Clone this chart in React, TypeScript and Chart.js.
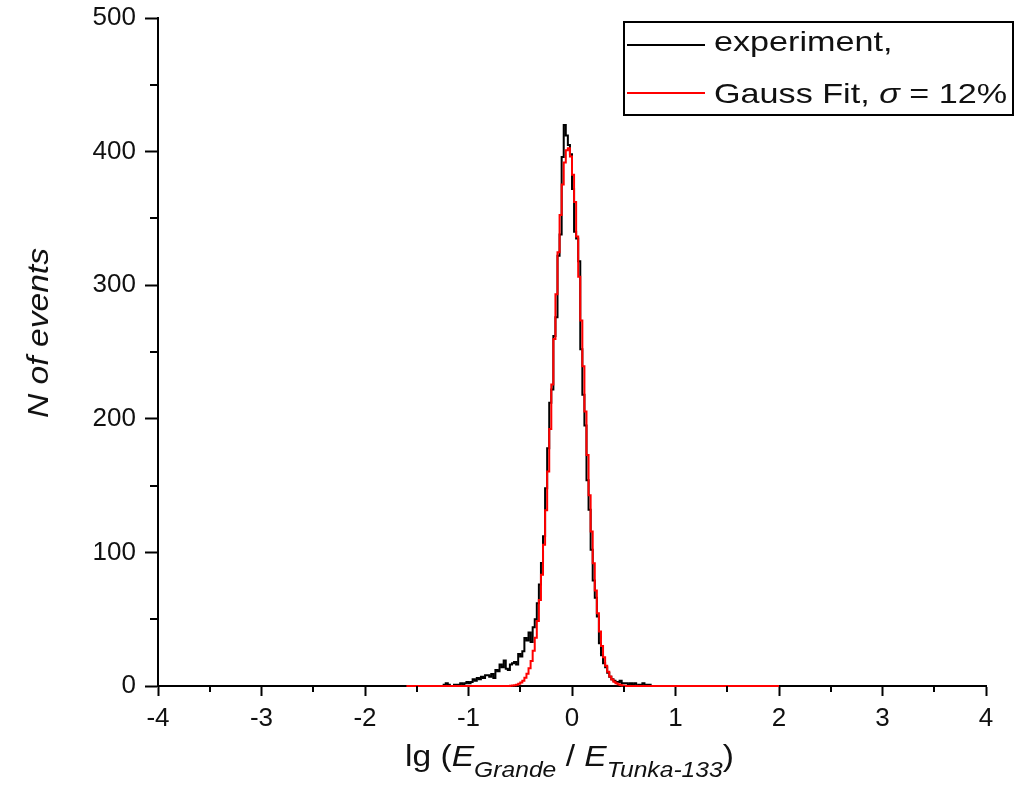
import React, { useEffect, useRef } from "react";
import { Chart, registerables } from "chart.js";

Chart.register(...registerables);

// ---- axes ----
const X_MIN = -4;
const X_MAX = 4;
const Y_MIN = 0;
const Y_MAX = 500;
const xMajorTicks = [-4, -3, -2, -1, 0, 1, 2, 3, 4];
const xMinorTicks = [-3.5, -2.5, -1.5, -0.5, 0.5, 1.5, 2.5, 3.5];
const yMajorTicks = [0, 100, 200, 300, 400, 500];
const yMinorTicks = [50, 150, 250, 350, 450];

// ---- histogram bins ----
const binWidth = 0.02;

// experiment: counts per bin, first bin starts at -1.24
const experimentFirstEdge = -1.24;
const experimentCounts = [
  1, 1, 2, 1, 0, 0, 1, 1, 1, 2,
  1, 2, 3, 2, 3, 5, 4, 6, 5, 7,
  6, 8, 8, 7, 9, 6, 12, 11, 16, 14,
  19, 13, 12, 16, 17, 18, 16, 24, 22, 26,
  36, 34, 40, 33, 44, 50, 62, 76, 92, 112,
  148, 178, 212, 222, 262, 276, 322, 338, 396, 420,
  412, 405,
  398, 372, 340, 335, 318, 252, 218, 195, 154, 132,
  102, 79, 66, 52, 32, 23, 17, 14, 10, 7,
  5, 4, 3, 3, 4, 2, 2, 2, 1, 2,
  1, 2, 0, 1, 1, 2, 1, 1, 1,
];

// Gauss fit: values per bin, first bin starts at -0.60
const fitFirstEdge = -0.6;
const fitCounts = [
  0.13, 0.22, 0.38, 0.63, 1.0, 1.7, 2.6, 4.0, 6.1, 9.1,
  13.2, 18.8, 26.3, 36.2, 48.7, 64.3, 83.3, 105.7, 131.5, 160.6,
  192.3, 225.6, 259.8, 293.3, 324.7, 352.5, 375.3, 391.8, 401.1, 402.6,
  396.4, 382.7, 362.3, 336.5, 306.4, 273.5, 239.4, 205.5, 172.9, 142.7,
  115.6, 91.8, 71.5, 54.5, 40.8, 29.9, 21.6, 15.2, 10.6, 7.2,
  4.8, 3.1, 2.0, 1.25, 0.77, 0.46, 0.27,
];
const fitRangeStart = -1.6;
const fitRangeEnd = 2.0;

const r3 = (v: number) => Math.round(v * 1000) / 1000;

function histogramPoints(firstEdge: number, counts: number[]) {
  const pts: { x: number; y: number }[] = [{ x: firstEdge, y: 0 }];
  counts.forEach((c, i) => pts.push({ x: r3(firstEdge + i * binWidth), y: c }));
  pts.push({ x: r3(firstEdge + counts.length * binWidth), y: 0 });
  return pts;
}

const FONT = "'Liberation Sans', Arial, sans-serif";

const minorTickPlugin = {
  id: "minorTicks",
  afterDraw(chart: any) {
    const { ctx, chartArea, scales } = chart;
    ctx.save();
    ctx.strokeStyle = "#000";
    ctx.lineWidth = 2;
    xMinorTicks.forEach((v) => {
      const px = Math.round(scales.x.getPixelForValue(v));
      ctx.beginPath();
      ctx.moveTo(px, chartArea.bottom);
      ctx.lineTo(px, chartArea.bottom + 6);
      ctx.stroke();
    });
    yMinorTicks.forEach((v) => {
      const py = Math.round(scales.y.getPixelForValue(v));
      ctx.beginPath();
      ctx.moveTo(chartArea.left, py);
      ctx.lineTo(chartArea.left - 8, py);
      ctx.stroke();
    });
    ctx.restore();
  },
};

export default function App() {
  const ref = useRef<HTMLCanvasElement>(null);

  useEffect(() => {
    const fitPoints = [
      { x: fitRangeStart, y: 0 },
      ...histogramPoints(fitFirstEdge, fitCounts),
      { x: fitRangeEnd, y: 0 },
    ];
    const expPoints = histogramPoints(experimentFirstEdge, experimentCounts);

    const chart = new Chart(ref.current as HTMLCanvasElement, {
      type: "line",
      data: {
        datasets: [
          {
            label: "Gauss Fit, σ = 12%",
            data: fitPoints,
            borderColor: "#ff0000",
            borderWidth: 2,
            pointRadius: 0,
            stepped: "after",
            fill: false,
            order: 0,
            clip: 6,
          } as any,
          {
            label: "experiment,",
            data: expPoints,
            borderColor: "#000000",
            borderWidth: 2,
            pointRadius: 0,
            stepped: "after",
            fill: false,
            order: 1,
            clip: 6,
          } as any,
        ],
      },
      options: {
        animation: false,
        responsive: false,
        events: [],
        layout: { padding: { top: 18, right: 32, left: 0, bottom: 0 } },
        plugins: { legend: { display: false }, tooltip: { enabled: false } },
        scales: {
          x: {
            type: "linear",
            min: X_MIN,
            max: X_MAX,
            afterBuildTicks: (s: any) => {
              s.ticks = xMajorTicks.map((v) => ({ value: v }));
            },
            afterFit: (s: any) => {
              s.height = 100;
              s.paddingLeft = 0;
              s.paddingRight = 0;
            },
            ticks: {
              color: "#111",
              font: { family: FONT, size: 26 },
              padding: 7,
              maxRotation: 0,
              callback: (v: any) => String(v),
            },
            grid: {
              drawOnChartArea: false,
              drawTicks: true,
              tickLength: 10,
              tickWidth: 2,
              tickColor: "#000",
            },
            border: { display: true, color: "#000", width: 2 },
          },
          y: {
            type: "linear",
            min: Y_MIN,
            max: Y_MAX,
            afterBuildTicks: (s: any) => {
              s.ticks = yMajorTicks.map((v) => ({ value: v }));
            },
            afterFit: (s: any) => {
              s.width = 158;
              s.paddingTop = 0;
              s.paddingBottom = 0;
            },
            ticks: {
              color: "#111",
              font: { family: FONT, size: 26 },
              padding: 9,
              callback: (v: any) => String(v),
            },
            grid: {
              drawOnChartArea: false,
              drawTicks: true,
              tickLength: 13,
              tickWidth: 2,
              tickColor: "#000",
            },
            border: { display: true, color: "#000", width: 2 },
          },
        },
      },
      plugins: [minorTickPlugin],
    });
    return () => chart.destroy();
  }, []);

  return (
    <div
      style={{
        position: "fixed",
        left: 0,
        top: 0,
        width: 1018,
        height: 786,
        background: "#fff",
        overflow: "hidden",
        fontFamily: FONT,
        color: "#111",
      }}
    >
      <canvas ref={ref} width={1018} height={786} style={{ display: "block" }} />

      {/* y-axis title */}
      <div
        style={{
          position: "absolute",
          left: 38,
          top: 333,
          fontSize: 30,
          lineHeight: 1,
          fontStyle: "italic",
          whiteSpace: "nowrap",
          transform: "translate(-50%, -50%) rotate(-90deg) scaleX(1.12)",
        }}
      >
        N of events
      </div>

      {/* x-axis title */}
      <div
        style={{
          position: "absolute",
          left: 405,
          top: 741,
          fontSize: 30,
          lineHeight: 1,
          whiteSpace: "nowrap",
          transform: "scaleX(1.12)",
          transformOrigin: "left top",
        }}
      >
        lg (<i>E</i>
        <i style={{ fontSize: 22, verticalAlign: "-11px" }}>Grande</i> / <i>E</i>
        <i style={{ fontSize: 22, verticalAlign: "-11px" }}>Tunka-133</i>)
      </div>

      {/* legend */}
      <div
        style={{
          position: "absolute",
          left: 623,
          top: 21,
          width: 387,
          height: 91,
          border: "2px solid #000",
        }}
      />
      <div style={{ position: "absolute", left: 627, top: 44, width: 78, height: 2, background: "#000" }} />
      <div style={{ position: "absolute", left: 627, top: 92, width: 78, height: 2, background: "#ff0000" }} />
      <div
        style={{
          position: "absolute",
          left: 714,
          top: 28,
          fontSize: 28,
          lineHeight: 1,
          whiteSpace: "nowrap",
          transform: "scaleX(1.22)",
          transformOrigin: "left top",
        }}
      >
        experiment,
      </div>
      <div
        style={{
          position: "absolute",
          left: 714,
          top: 80,
          fontSize: 28,
          lineHeight: 1,
          whiteSpace: "nowrap",
          transform: "scaleX(1.22)",
          transformOrigin: "left top",
        }}
      >
        Gauss Fit, <i>σ</i> = 12%
      </div>
    </div>
  );
}
